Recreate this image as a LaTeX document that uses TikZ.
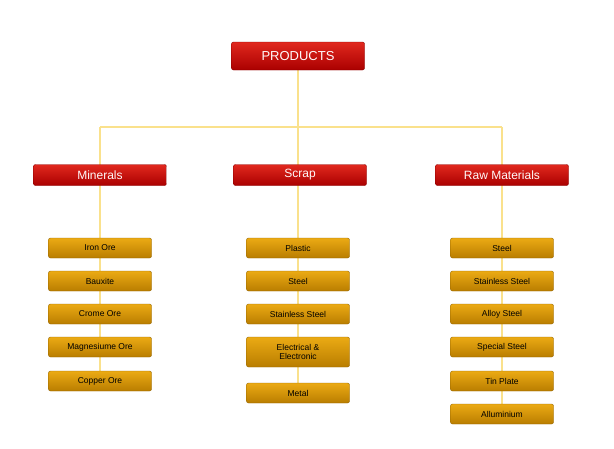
\documentclass[tikz,border=0pt]{standalone}
\usepackage{fontspec}
\setmainfont{Liberation Sans}
\usetikzlibrary{backgrounds}
\definecolor{redtop}{RGB}{225,40,30}
\definecolor{redbot}{RGB}{170,0,0}
\definecolor{goldtop}{RGB}{235,170,20}
\definecolor{goldbot}{RGB}{185,125,0}
\definecolor{linkline}{RGB}{250,225,140}
\tikzset{
  headbox/.style={draw=redbot!80!black, rounded corners=2pt, top color=redtop, bottom color=redbot,
                  text=white!90!pink, minimum width=133pt, minimum height=21pt, font=\fontsize{12}{12}\selectfont},
  itembox/.style={draw=goldbot!80!black, rounded corners=2pt, top color=goldtop, bottom color=goldbot,
                  text=black, minimum width=103pt, minimum height=20pt, align=center, font=\fontsize{8.5}{9}\selectfont},
  link/.style={draw=linkline, line width=1.2pt}
}
\begin{document}
\begin{tikzpicture}[x=1pt,y=-1pt]
\useasboundingbox (0,0) rectangle (614,448);

% top level
\node[headbox, minimum height=28pt, font=\fontsize{13}{13}\selectfont] (products) at (298,56) {PRODUCTS};

% categories
\node[headbox] (minerals) at (100,175) {Minerals};
\node[headbox] (scrap) at (300,175) {Scrap};
\node[headbox] (raw) at (502,175) {Raw Materials};

\coordinate (hub) at (298,127);
\coordinate (hubL) at (100,127);
\coordinate (hubR) at (502,127);

% items
\node[itembox] (m1) at (100,248) {Iron Ore};
\node[itembox] (m2) at (100,281) {Bauxite};
\node[itembox] (m3) at (100,314) {Crome Ore};
\node[itembox] (m4) at (100,347) {Magnesiume Ore};
\node[itembox] (m5) at (100,381) {Copper Ore};

\node[itembox] (s1) at (298,248) {Plastic};
\node[itembox] (s2) at (298,281) {Steel};
\node[itembox] (s3) at (298,314) {Stainless Steel};
\node[itembox, minimum height=30pt] (s4) at (298,352) {Electrical \&\\Electronic};
\node[itembox] (s5) at (298,393) {Metal};

\node[itembox] (r1) at (502,248) {Steel};
\node[itembox] (r2) at (502,281) {Stainless Steel};
\node[itembox] (r3) at (502,314) {Alloy Steel};
\node[itembox] (r4) at (502,347) {Special Steel};
\node[itembox] (r5) at (502,381) {Tin Plate};
\node[itembox] (r6) at (502,414) {Alluminium};

% connectors behind the boxes
\begin{scope}[on background layer]
  \draw[link] (products.center) -- (hub);
  \draw[link] (hubL) -- (hubR);
  \draw[link] (hubL) -- (m5.center);
  \draw[link] (hub) -- (s5.center);
  \draw[link] (hubR) -- (r6.center);
\end{scope}
\end{tikzpicture}
\end{document}
